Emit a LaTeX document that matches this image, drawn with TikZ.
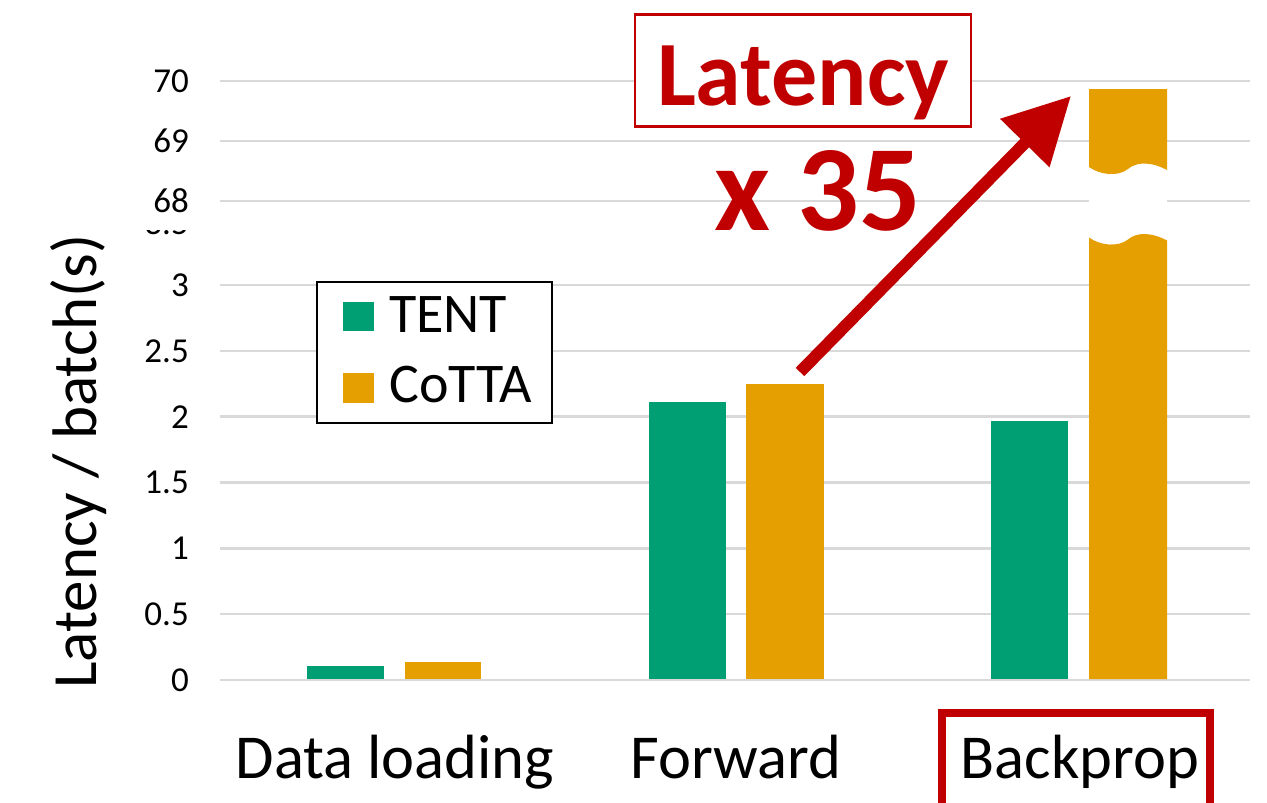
\documentclass[tikz,border=0pt]{standalone}
\usepackage{fontspec}
\setmainfont{Carlito}
\usetikzlibrary{arrows.meta}
\definecolor{tentgreen}{HTML}{009E73}
\definecolor{cottaorange}{HTML}{E69F00}
\definecolor{gridgray}{HTML}{D9D9D9}
\definecolor{accentred}{HTML}{C00000}

\begin{document}
\begin{tikzpicture}[x=1pt,y=-1pt,
  gridline/.style={draw=gridgray,line width=2.5pt},
  ticklabel/.style={anchor=east,inner sep=0pt,font=\fontsize{35}{35}\selectfont},
  catlabel/.style={anchor=base,inner sep=0pt,font=\fontsize{62.5}{62.5}\selectfont},
  legtext/.style={anchor=base west,inner sep=0pt,font=\fontsize{56}{56}\selectfont},
  tentbar/.style={fill=tentgreen},
  cottabar/.style={fill=cottaorange},
  callout/.style={text=accentred,inner sep=0pt,anchor=base},
  ]
\useasboundingbox (0,0) rectangle (1267,803);
\clip (0,0) rectangle (1267,803);

% horizontal grid (lower segment 0..3, upper segment 68..70)
\foreach \gy in {680,614.2,548.3,482.5,416.7,350.8,285,201,141,81}
  \draw[gridline] (220,\gy) -- (1250,\gy);

% tick labels
\node[ticklabel] (t0)  at (189,680)   {0};
\node[ticklabel] (t05) at (189,614.2) {0.5};
\node[ticklabel] (t1)  at (189,548.3) {1};
\node[ticklabel] (t15) at (189,482.5) {1.5};
\node[ticklabel] (t2)  at (189,416.7) {2};
\node[ticklabel] (t25) at (189,350.8) {2.5};
\node[ticklabel] (t3)  at (189,285)   {3};
\node[ticklabel] (t68) at (189,201)   {68};
\node[ticklabel] (t69) at (189,141)   {69};
\node[ticklabel] (t70) at (189,81)    {70};
% label hidden by the axis break, only its foot shows
\begin{scope}
  \clip (120,230) rectangle (200,245);
  \node[ticklabel] (t35) at (189,223.5) {3.5};
\end{scope}

% axis title
\node[rotate=90,anchor=base,inner sep=0pt,font=\fontsize{63}{63}\selectfont]
  (ylabel) at (96,461.5) {Latency / batch(s)};

% bars: Data loading
\fill[tentbar]  (307,665.7) rectangle (384,679);
\fill[cottabar] (405,662.3) rectangle (481,679);
% bars: Forward
\fill[tentbar]  (649,402) rectangle (726,679);
\fill[cottabar] (746,384) rectangle (824,679);
% bars: Backprop
\fill[tentbar]  (991,421) rectangle (1068,679);
% broken CoTTA bar
\fill[white] (1089,160) rectangle (1167,250);
\fill[cottabar] (1089,89) -- (1167,89) -- (1167,170)
  .. controls (1150,161) and (1136,162) .. (1128,169)
  .. controls (1118,177) and (1100,175) .. (1089,167) -- cycle;
\fill[cottabar] (1089,679) -- (1089,237.5)
  .. controls (1100,245.5) and (1118,247.5) .. (1128,239.5)
  .. controls (1136,232.5) and (1150,231.5) .. (1167,240.5)
  -- (1167,679) -- cycle;

% legend
\draw[line width=2pt,fill=white] (317,282) rectangle (552,423);
\fill[tentgreen]   (343,302) rectangle (374,331);
\fill[cottaorange] (343,373) rectangle (374,403);
\node[legtext] (legtent)  at (389,332.5) {TENT};
\node[legtext] (legcotta) at (389,402.5) {CoTTA};

% growth arrow from Forward to Backprop
\coordinate (arrowtail) at (800,372);
\coordinate (arrowtip)  at (1071,96);
\draw[accentred,line width=12pt,-{Triangle[length=66pt,width=66pt]}]
  (arrowtail) -- (arrowtip);

% callout
\node[draw=accentred,line width=2.5pt,fill=white,minimum width=336pt,
      minimum height=112pt,inner sep=0pt] (latbox) at (803,70.5) {};
\node[callout,font=\bfseries\fontsize{92}{92}\selectfont] (lattext) at (803,105) {Latency};
\node[callout,font=\bfseries\fontsize{122}{122}\selectfont] (factor) at (818,230) {x 35};

% category labels
\node[catlabel] (catdl) at (395,778)  {Data loading};
\node[catlabel] (catfw) at (736,778)  {Forward};
\node[catlabel] (catbp) at (1080,778) {Backprop};
\draw[accentred,line width=8pt] (941.5,830) -- (941.5,713) -- (1209.5,713) -- (1209.5,830);
\end{tikzpicture}
\end{document}
